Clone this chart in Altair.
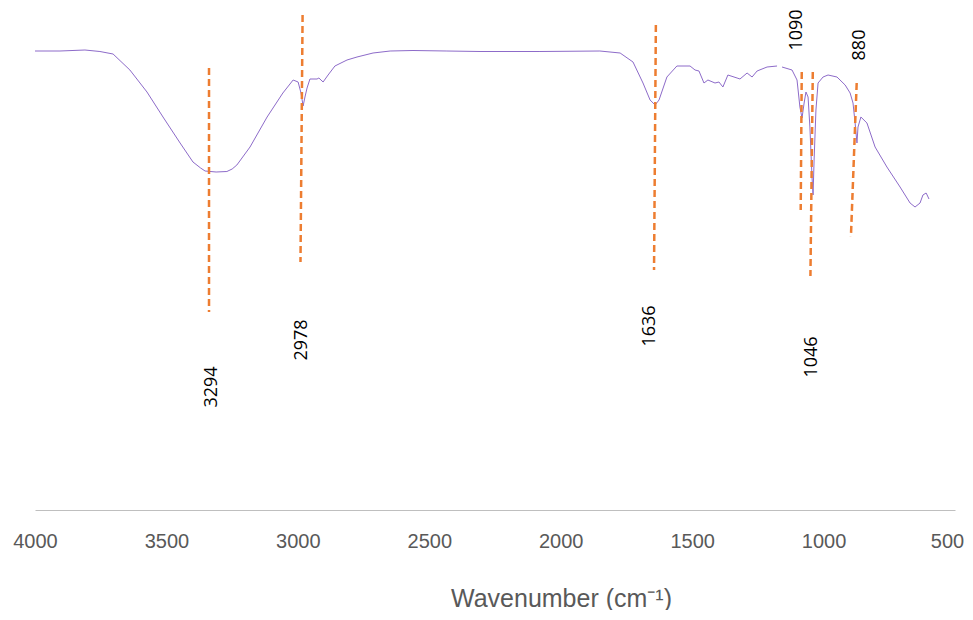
import altair as alt
import pandas as pd

# ---- spectrum (wavenumber, transmittance-like units)
wavenumber = [4000, 3905, 3810, 3753, 3703, 3639, 3574, 3513, 3448, 3399, 3370, 3353, 3311, 3270,
              3250, 3232, 3182, 3117, 3057, 3018, 2999, 2988, 2980, 2973, 2965, 2954, 2927, 2920,
              2904, 2885, 2859, 2813, 2775, 2714, 2649, 2562, 2433, 2307, 2079, 1851, 1774,
              1725, 1687, 1660, 1641, 1626, 1596, 1558, 1508, 1489, 1474, 1455, 1440, 1413,
              1398, 1383, 1364, 1329, 1318, 1291, 1272, 1253, 1215, 1177,
              1158, 1120, 1101, 1090, 1082, 1074, 1067, 1059, 1052, 1044, 1040, 1036, 1029,
              1021, 1002, 983, 949, 918, 899, 888, 880, 873, 869, 858, 835, 804, 759, 709,
              671, 652, 633, 622, 610, 606, 599]
transmittance = [91.8, 91.8, 92.0, 91.7, 91.2, 88.0, 83.6, 78.6, 73.4, 69.6, 68.4, 67.8, 67.6, 67.7,
                 68.2, 69.0, 72.6, 78.6, 83.4, 86.0, 85.6, 83.4, 80.8, 82.6, 84.4, 86.2, 86.2, 86.4,
                 85.6, 87.0, 88.8, 90.0, 90.6, 91.4, 91.8, 91.9, 91.8, 91.7, 91.7, 91.8, 91.4,
                 89.6, 85.4, 82.0, 81.0, 82.0, 86.6, 88.8, 88.8, 88.0, 87.8, 85.4, 86.0, 85.4,
                 85.6, 84.6, 87.0, 86.4, 86.2, 87.4, 86.6, 87.8, 88.6, 88.8,
                 88.6, 88.0, 86.0, 80.6, 78.4, 81.4, 83.6, 82.6, 76.6, 66.6, 63.0, 70.0, 80.0,
                 85.4, 86.6, 87.0, 86.6, 85.0, 83.4, 81.4, 77.4, 73.4, 76.6, 78.6, 77.4, 72.6,
                 68.6, 64.6, 61.4, 60.6, 61.4, 63.0, 63.4, 63.0, 62.2]
segment = [0] * 64 + [1] * (len(wavenumber) - 64)

# ---- peak annotations
peak_labels = ["3294", "2978", "1636", "1090", "1046", "880"]
line_x_top = [3338, 2982, 1638, 1083, 1041, 874]
line_y_top = [88.4, 99.0, 97.0, 87.6, 87.6, 85.4]
line_x_bot = [3338, 2990, 1645, 1087, 1050, 896]
line_y_bot = [39.6, 49.6, 48.0, 60.0, 46.8, 54.6]
label_x = [3327, 2984, 1660, 1101, 1044, 861]
label_y = [24.6, 34.0, 36.8, 96.0, 30.6, 93.0]

x_ticks = [4000, 3500, 3000, 2500, 2000, 1500, 1000, 500]

spec = pd.DataFrame({"wn": wavenumber, "t": transmittance, "seg": segment})
ann = pd.DataFrame({"label": peak_labels, "xa": line_x_top, "ya": line_y_top,
                    "xb": line_x_bot, "yb": line_y_bot, "lx": label_x, "ly": label_y})

xscale = alt.Scale(domain=[500, 4000], reverse=True, nice=False, zero=False)
yscale = alt.Scale(domain=[0, 100], nice=False, zero=False)

xaxis = alt.Axis(values=x_ticks, format="d", grid=False, ticks=False,
                 domainColor="#bfbfbf", domainWidth=1,
                 labelFont="Liberation Sans", labelFontSize=20, labelColor="#595959",
                 labelPadding=21, labelFlush=False,
                 labelOffset=alt.ExprRef("datum.value == 500 ? -8 : 0"),
                 title="Wavenumber (cm⁻¹)", titleFont="Liberation Sans", titleFontSize=25,
                 titleFontWeight="normal", titleColor="#595959",
                 titleX=526, titleY=88, titleAlign="center", titleBaseline="middle")

line = alt.Chart(spec).mark_line(color="#8D6BC9", strokeWidth=1).encode(
    x=alt.X("wn:Q", scale=xscale, axis=xaxis),
    y=alt.Y("t:Q", scale=yscale, axis=None),
    detail="seg:N",
)

rules = alt.Chart(ann).mark_rule(color="#ED7D31", strokeWidth=2.5, strokeDash=[7, 4]).encode(
    x=alt.X("xa:Q", scale=xscale, axis=xaxis),
    y=alt.Y("ya:Q", scale=yscale, axis=None),
    x2=alt.X2("xb:Q"),
    y2=alt.Y2("yb:Q"),
)

labels = alt.Chart(ann).mark_text(angle=270, font="Open Sans", fontSize=18, color="#000000",
                                  align="center", baseline="middle").encode(
    x=alt.X("lx:Q", scale=xscale, axis=xaxis),
    y=alt.Y("ly:Q", scale=yscale, axis=None),
    text=alt.Text("label:N"),
)

chart = alt.layer(line, rules, labels).properties(
    width=920, height=500,
    autosize=alt.AutoSizeParams(type="none"),
    padding={"left": 27, "top": 2, "right": 10, "bottom": 100},
).configure_view(stroke=None)

chart.save("out.html", embed_options={"renderer": "svg", "actions": False})
